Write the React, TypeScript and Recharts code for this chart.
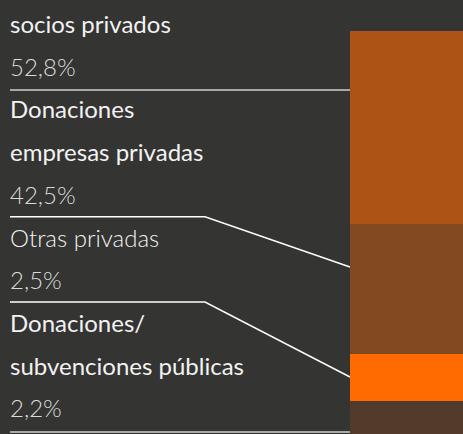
import { BarChart, Bar, XAxis, YAxis, Customized } from 'recharts';

// stacked bar segments, bottom to top (share of the visible bar height)
const segmentNames = ['publicas', 'otras', 'empresas', 'socios'];
const segmentValues = [8.2, 11.7, 32.2, 47.9];
const segmentColors = ['#533B2B', '#FF6B00', '#824A20', '#AD5316'];

// label blocks, top to bottom
const labelLines = [['socios privados'], ['Donaciones', 'empresas privadas'], ['Otras privadas'], ['Donaciones/', 'subvenciones públicas']];
const shares = [52.8, 42.5, 2.5, 2.2];
const lightNames = [false, false, true, false];

const data = [
	segmentNames.reduce((row: any, name, i) => {
		row[name] = segmentValues[i];
		return row;
	}, { name: 'total' }),
];

const W = 463;
const H = 434;
const rowPitch = 42.7;
const firstBaseline = 33;
const dividers = [
	{ y: 90, bend: null, end: 90 },
	{ y: 216.7, bend: 205, end: 267 },
	{ y: 302, bend: 205, end: 377 },
	{ y: 432, bend: null, end: 432 },
];

const Annotations = () => {
	let row = 0;
	const texts: any[] = [];
	labelLines.forEach((lines, g) => {
		lines.forEach((t) => {
			texts.push(
				<text
					key={'n' + g + t}
					x={10}
					y={firstBaseline + rowPitch * row}
					fill='#F2F2F2'
					fontFamily='Lato'
					fontWeight={lightNames[g] ? 300 : 400}
					fontSize={24}
				>
					{t}
				</text>
			);
			row++;
		});
		texts.push(
			<text
				key={'v' + g}
				x={10}
				y={firstBaseline + rowPitch * row}
				fill='#DADADA'
				fontFamily='Lato'
				fontWeight={300}
				fontSize={24}
			>
				{shares[g].toFixed(1).replace('.', ',') + '%'}
			</text>
		);
		row++;
	});

	return (
		<g>
			{texts}
			{dividers.map((d, i) => (
				<polyline
					key={i}
					points={d.bend === null ? `10,${d.y} 350,${d.end}` : `10,${d.y} ${d.bend},${d.y} 350,${d.end}`}
					fill='none'
					stroke={i === 0 || i === 3 ? '#CFCFCF' : '#FFFFFF'}
					strokeWidth={1.5}
				/>
			))}
		</g>
	);
};

export default function App() {
	return (
		<div style={{ position: 'absolute', left: 0, top: 0, width: W, height: H, background: '#343432' }}>
			<BarChart
				width={W}
				height={H}
				data={data}
				margin={{ top: 31, right: 0, left: 350, bottom: 0 }}
				barCategoryGap={0}
			>
				<XAxis dataKey='name' hide />
				<YAxis hide domain={[0, 100]} />
				{segmentNames.map((k, i) => (
					<Bar key={k} dataKey={k} stackId='a' fill={segmentColors[i]} isAnimationActive={false} />
				))}
				<Customized component={Annotations} />
			</BarChart>
		</div>
	);
}
